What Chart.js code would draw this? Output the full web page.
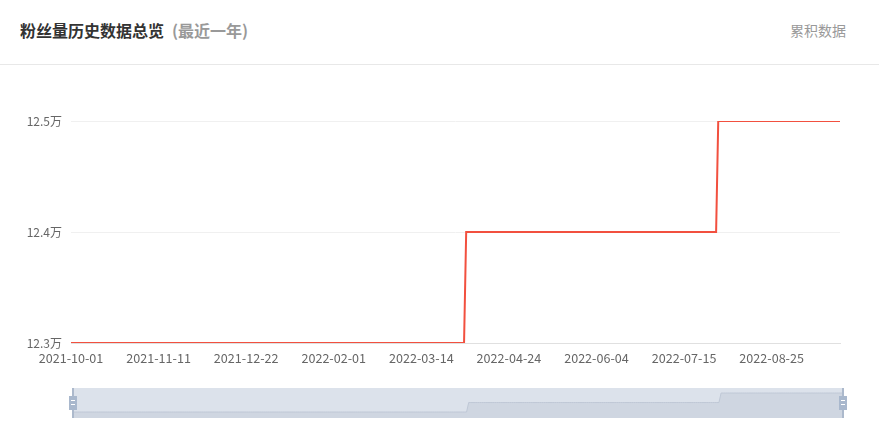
<!DOCTYPE html>
<html>
<head>
<meta charset="utf-8">
<script src="https://cdn.jsdelivr.net/npm/chart.js@4/dist/chart.umd.min.js"></script>
<style>
  html, body { margin:0; padding:0; background:#fff; }
  body { width:879px; height:436px; position:relative; overflow:hidden;
         font-family:"Noto Sans CJK SC","Noto Sans",sans-serif; }
  #title { position:absolute; left:20px; top:19px; font-size:16px; font-weight:bold; color:#333; line-height:22px; white-space:nowrap; }
  #title span { color:#999; margin-left:8px; }
  #right { position:absolute; right:33px; top:20px; font-size:14px; color:#999; line-height:20px; }
  #sep { position:absolute; left:0; top:64px; width:879px; height:1px; background:#e8e8e8; }
  #main { position:absolute; left:0; top:0; width:879px; height:436px; }
  #slider { position:absolute; left:63px; top:388px; width:790px; height:30px; }
</style>
</head>
<body>
<div id="title">粉丝量历史数据总览<span>(最近一年)</span></div>
<div id="right">累积数据</div>
<div id="sep"></div>
<div id="main"><canvas id="c1"></canvas></div>
<div id="slider"><canvas id="c2"></canvas></div>
<script>
// ---- data ----
const startDate = '2021-10-01';
const endDate = '2022-09-26';
const changeDates = ['2021-10-01', '2022-04-04', '2022-07-31'];
const levelValues = [123000, 124000, 125000];
const yTicks = [123000, 124000, 125000];
const tickEvery = 41;

function fmt(d){ const m=String(d.getUTCMonth()+1).padStart(2,'0'); const dd=String(d.getUTCDate()).padStart(2,'0'); return d.getUTCFullYear()+'-'+m+'-'+dd; }
const categories = [];
for (let d = new Date(startDate+'T00:00:00Z'); fmt(d) <= endDate; d.setUTCDate(d.getUTCDate()+1)) categories.push(fmt(d));
const values = categories.map(c => { let v = levelValues[0]; changeDates.forEach((cd,i)=>{ if (c >= cd) v = levelValues[i]; }); return v; });

const FONT = {family:'"Noto Sans CJK SC","Noto Sans",sans-serif', size:12};
const XFONT = {family:'"Noto Sans CJK SC","Noto Sans",sans-serif', size:12.6};

new Chart(document.getElementById('c1'), {
  type:'line',
  data:{ labels:categories, datasets:[{ data:values, borderColor:'#f2503f', borderWidth:2, pointRadius:0, tension:0, fill:false }]},
  options:{
    responsive:true, maintainAspectRatio:false, animation:false,
    layout:{ padding:{ left:0, right:39, top:121, bottom:63 } },
    plugins:{ legend:{display:false}, tooltip:{enabled:false} },
    scales:{
      x:{
        grid:{ display:false }, border:{ color:'#e0e0e0' },
        afterFit:s=>{ s.height = 30; },
        ticks:{ autoSkip:false, maxRotation:0, color:'#666', font:XFONT, padding:0,
          callback:(v,i)=> (i % tickEvery === 0 ? categories[i] : null) }
      },
      y:{
        min:yTicks[0], max:yTicks[yTicks.length-1],
        afterFit:s=>{ s.width = 71; },
        afterBuildTicks:s=>{ s.ticks = yTicks.map(v=>({value:v})); },
        grid:{ color:'#f0f0f0', drawTicks:false }, border:{ display:false },
        ticks:{ color:'#666', font:FONT, padding:9, callback:v=> (v/10000).toFixed(1)+'万' }
      }
    }
  }
});

const handlePlugin = {
  id:'handles',
  beforeDraw(chart){
    const {ctx, chartArea:a} = chart;
    ctx.save(); ctx.fillStyle='#dce2eb'; ctx.fillRect(a.left, 0, a.right-a.left, chart.height); ctx.restore();
  },
  afterDraw(chart){
    const {ctx, chartArea:a} = chart;
    ctx.save();
    [a.left, a.right].forEach(x=>{
      ctx.fillStyle='#acb9cc'; ctx.fillRect(x-1, 0, 2, chart.height);
      ctx.fillStyle='#a9b8cd'; ctx.fillRect(x-4, 8, 8, 14);
      ctx.fillStyle='#ffffff'; ctx.fillRect(x-2, 12, 4, 1); ctx.fillRect(x-2, 16, 4, 1);
    });
    ctx.restore();
  }
};

new Chart(document.getElementById('c2'), {
  type:'line',
  data:{ labels:categories, datasets:[{ data:values, borderColor:'#bfc8d6', borderWidth:1, backgroundColor:'#cfd6e1', fill:'start', pointRadius:0, tension:0 }]},
  options:{
    responsive:true, maintainAspectRatio:false, animation:false,
    layout:{ padding:{ left:10, right:10, top:0, bottom:0 } },
    plugins:{ legend:{display:false}, tooltip:{enabled:false} },
    scales:{ x:{ display:false }, y:{ display:false, min:122370, max:125530 } }
  },
  plugins:[handlePlugin]
});
</script>
</body>
</html>
